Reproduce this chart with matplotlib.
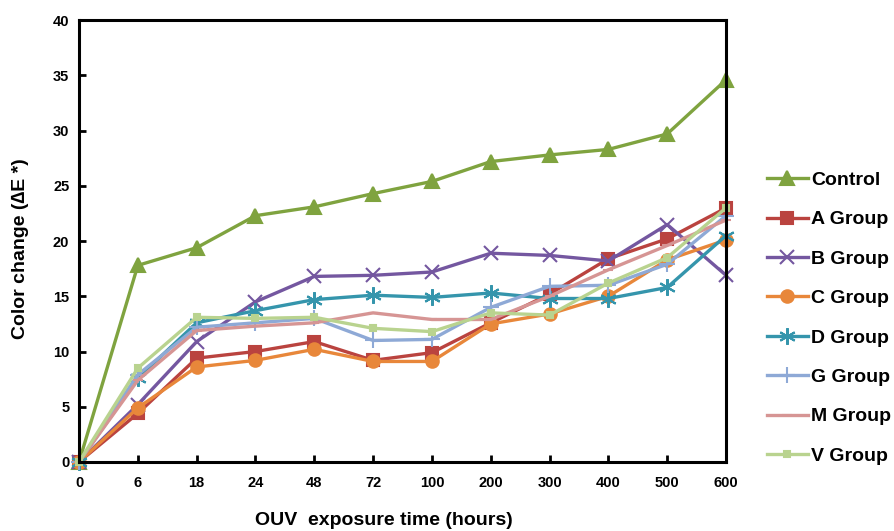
import matplotlib
matplotlib.use("Agg")
import matplotlib.pyplot as plt

plt.rcParams["font.family"] = ["Liberation Sans", "DejaVu Sans"]
plt.rcParams["font.weight"] = "bold"

hours = ["0", "6", "18", "24", "48", "72", "100", "200", "300", "400", "500", "600"]

control = [0, 17.8, 19.4, 22.3, 23.1, 24.3, 25.4, 27.2, 27.8, 28.3, 29.7, 34.6]
a_group = [0, 4.4, 9.4, 10.0, 10.9, 9.2, 9.9, 12.6, 15.2, 18.4, 20.2, 23.0]
b_group = [0, 5.2, 10.9, 14.5, 16.8, 16.9, 17.2, 18.9, 18.7, 18.2, 21.5, 16.9]
c_group = [0, 4.9, 8.6, 9.2, 10.2, 9.1, 9.1, 12.5, 13.4, 15.0, 18.3, 20.1]
d_group = [0, 7.6, 12.6, 13.7, 14.7, 15.1, 14.9, 15.3, 14.8, 14.8, 15.8, 20.5]
g_group = [0, 7.9, 12.2, 12.6, 13.0, 11.0, 11.1, 14.0, 15.9, 16.0, 17.9, 22.3]
m_group = [0, 7.4, 11.9, 12.3, 12.6, 13.5, 12.9, 12.9, 15.0, 17.4, 19.6, 21.9]
v_group = [0, 8.5, 13.1, 13.0, 13.1, 12.1, 11.8, 13.5, 13.3, 16.2, 18.5, 23.0]

series = [
    ("Control", control, "#7FA33F", "^", 10),
    ("A Group", a_group, "#BA433F", "s", 9),
    ("B Group", b_group, "#7457A0", "x", 10),
    ("C Group", c_group, "#E8873A", "o", 9),
    ("D Group", d_group, "#3595AC", (6, 2, 0), 12),
    ("G Group", g_group, "#8EA9D6", "+", 12),
    ("M Group", m_group, "#D69594", "_", 7),
    ("V Group", v_group, "#B9D38F", "s", 5),
]

fig = plt.figure(figsize=(8.94, 5.31), dpi=100)
ax = fig.add_axes([0.0884, 0.13, 0.7237, 0.832])

x = list(range(len(hours)))
for name, vals, col, mk, ms in series:
    ax.plot(x, vals, color=col, lw=2.4, marker=mk, markersize=ms,
            markeredgewidth=1.5, markeredgecolor=col, label=name,
            clip_on=False)

ax.set_xlim(0, len(hours) - 1)
ax.set_ylim(0, 40)
ax.set_xticks(x)
ax.set_xticklabels(hours)
ax.set_yticks(range(0, 41, 5))
ax.tick_params(direction="in", length=5, width=2, labelsize=10.5, pad=7)
ax.tick_params(axis="x", pad=10)
for sp in ax.spines.values():
    sp.set_linewidth(2.2)

ax.set_xlabel("OUV  exposure time (hours)", fontsize=14, fontweight="bold")
ax.set_ylabel("Color change (\u2206E *)", fontsize=14, fontweight="bold")
ax.xaxis.set_label_coords(0.471, -0.113)
ax.yaxis.set_label_coords(-0.077, 0.482)

fig.legend(loc="center left", bbox_to_anchor=(0.858, 0.401), frameon=False,
           fontsize=14, handlelength=2.1, labelspacing=1.12, handletextpad=0.15,
           borderpad=0, borderaxespad=0)

fig.savefig("out.png", dpi=100)
